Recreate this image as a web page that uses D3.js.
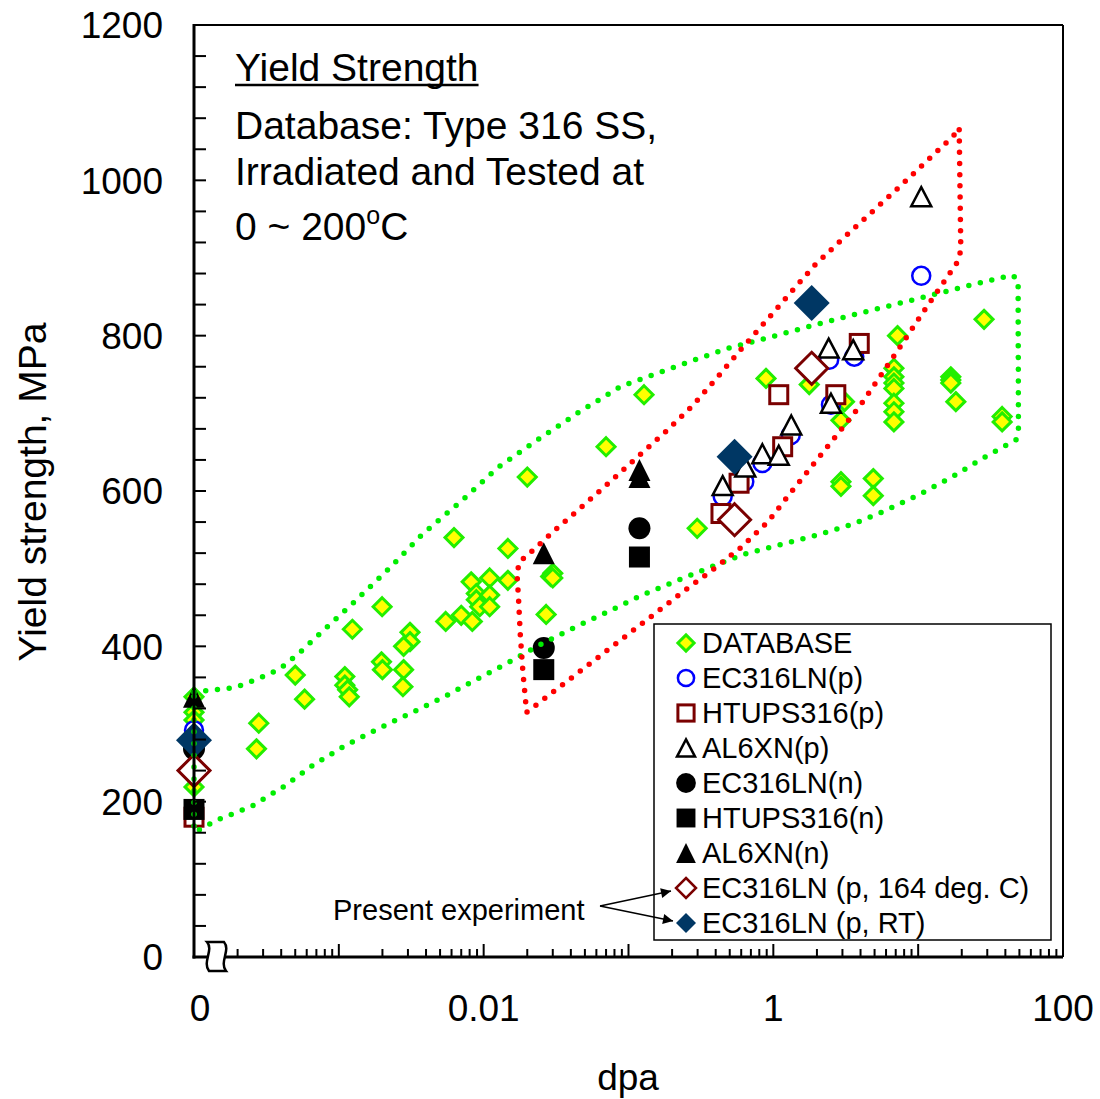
<!DOCTYPE html>
<html><head><meta charset="utf-8">
<script src="https://cdn.jsdelivr.net/npm/d3@7"></script>
<style>body{margin:0;background:#fff}svg{display:block}text{font-family:"Liberation Sans",Arial,sans-serif}</style>
</head><body><svg id="c" width="1100" height="1099"></svg>
<script>
// ---------- data ----------
const dbDpa = [0,0,0,0, 0.00028,0.00027,0.0005,0.00058, 0.0011,0.0011,0.00115,0.00118, 0.00124,0.00199,0.00197,0.002,
  0.0031,0.0031,0.0028,0.0028,0.00277, 0.00624,0.00547,0.007,0.00835,0.0082, 0.0089,0.0089,0.0094, 0.011,0.011,0.011,
  0.0147,0.0147, 0.020, 0.030,0.029,0.030,0.027, 0.070,0.128,0.298, 0.89,1.77,7.2,
  6.8,6.8,6.8,6.8,6.8,6.8,6.8, 16.8,16.8,16.8,18.2, 28.5,38,38, 2.93,2.93,4.9,4.9,2.93,3.1];
const dbYS = [335,315,305,219, 301,268,363,332, 361,350,344,335, 422,451,380,370,
  418,406,400,370,348, 540,432,440,432,483, 468,460,451, 488,466,451,
  526,485, 618, 494,490,488,441, 657,724,552, 745,737,800,
  758,747,739,732,713,702,689, 747,743,739,715, 821,696,689, 612,606,616,594,691,715];

const ecpDpa = [0,0.447,0.63,0.84,1.32,2.43,2.5,3.62,10.5];
const ecpYS  = [292,593,612,636,672,769,711,773,877];
const htpDpa = [0,0.435,0.58,1.16,1.09,2.7,3.92];
const htpYS  = [180,571,610,657,724,724,790];
const alpDpa = [0.447,0.64,0.84,1.09,1.33,2.41,3.56,2.5,10.5];
const alpYS  = [607,631,648,646,685,784,782,713,979];

const ecnDpa = [0,0.026,0.119];
const ecnYS  = [268,398,552];
const htnDpa = [0,0.026,0.119];
const htnYS  = [190,370,515];
const alnDpa = [0,0.026,0.119,0.119];
const alnYS  = [335,520,627,618];

const ex164Dpa = [0,0.54,1.84];
const ex164YS  = [240,563,758];
const exRTDpa  = [0,0.54,1.84];
const exRTYS   = [279,644,842];

// envelopes [dpa, MPa]
const greenEnv = [[1e-4,341],[1.92e-4,347],[2.76e-4,358],[3.92e-4,371],[5.3e-4,391],[8.2e-4,424],[1.26e-3,456],
  [2.22e-3,500],[3.81e-3,545],[7.0e-3,587],[0.0125,630],[0.0236,666],[0.0459,702],[0.0891,735],[0.225,762],
  [0.472,783],[0.989,799],[2.13,816],[4.59,832],[9.68,847],[20.7,863],[44.5,878],[49,872],[49.2,680],[47.4,666],
  [28.5,643],[17.1,618],[10.3,596],[5.99,575],[3.49,557],[1.99,543],[1.13,531],[0.638,519],[0.368,502],
  [0.213,484],[0.124,466],[0.0731,445],[0.0431,425],[0.0256,404],[0.0151,380],[0.00905,358],[5.32e-3,335],
  [3.14e-3,314],[1.87e-3,294],[1.1e-3,272],[6.65e-4,247],[4.13e-4,219],[2.5e-4,194],[1.47e-4,177],[1.02e-4,161],[1e-4,161],[1e-4,341]];
const redEnv = [[19.2,1065],[19.7,910],[18.7,895],[14.9,868],[10.7,829],[7.72,789],[5.53,749],[3.98,710],[2.77,673],
  [1.92,636],[1.32,598],[0.914,560],[0.604,528],[0.378,498],[0.237,470],[0.147,440],[0.0198,315],
  [0.01866,367],[0.0179,415],[0.0174,462],[0.01698,494],[0.0177,509],[0.0205,519],[0.0317,551],[0.0492,582],
  [0.0768,614],[0.119,646],[0.185,678],[0.281,711],[0.413,747],[0.609,784],[0.891,819],[1.31,855],[1.94,891],
  [2.98,924],[4.59,956],[7.08,988],[10.9,1021],[16.8,1054],[19.2,1065]];

const yLabelTicks = [0,200,400,600,800,1000,1200];
const xLabelVals = [0,0.01,1,100];
const xLabelText = ["0","0.01","1","100"];
const legendNames = ["DATABASE","EC316LN(p)","HTUPS316(p)","AL6XN(p)","EC316LN(n)","HTUPS316(n)","AL6XN(n)","EC316LN (p, 164 deg. C)","EC316LN (p, RT)"];

// ---------- scales ----------
const svg = d3.select("#c");
const L=194, R=1063, T=25, B=957;
const x = d3.scaleLog().domain([1e-4,100]).range([L,R]);
const y = d3.scaleLinear().domain([0,1200]).range([B,T]);
const px = v => x(v === 0 ? 1e-4 : v);

// ---------- marker painter ----------
function marker(g, type, cx, cy, legend) {
  const k = legend ? 0.9 : 1;
  switch(type){
    case "db": { const r=9*k; g.append("path").attr("d",`M${cx},${cy-r}L${cx+r},${cy}L${cx},${cy+r}L${cx-r},${cy}Z`)
      .attr("fill","#ffff00").attr("stroke","#22ee00").attr("stroke-width",3); break; }
    case "co": g.append("circle").attr("cx",cx).attr("cy",cy).attr("r",9*k).attr("fill","#fff").attr("stroke","#0000ff").attr("stroke-width",2.5); break;
    case "so": { const s=18*k; g.append("rect").attr("x",cx-s/2).attr("y",cy-s/2).attr("width",s).attr("height",s)
      .attr("fill","#fff").attr("stroke","#7a0000").attr("stroke-width",3); break; }
    case "to": { const w=20*k, h=19*k; g.append("path").attr("d",`M${cx},${cy-h/2}L${cx+w/2},${cy+h/2}L${cx-w/2},${cy+h/2}Z`)
      .attr("fill","#fff").attr("stroke","#000").attr("stroke-width",2.5).attr("stroke-linejoin","miter"); break; }
    case "cf": g.append("circle").attr("cx",cx).attr("cy",cy).attr("r",11*k).attr("fill","#000"); break;
    case "sf": { const s=21*k; g.append("rect").attr("x",cx-s/2).attr("y",cy-s/2).attr("width",s).attr("height",s).attr("fill","#000"); break; }
    case "tf": { const w=22*k, h=22*k; g.append("path").attr("d",`M${cx},${cy-h/2}L${cx+w/2},${cy+h/2}L${cx-w/2},${cy+h/2}Z`).attr("fill","#000"); break; }
    case "do": { const r=(legend?10:16); g.append("path").attr("d",`M${cx},${cy-r}L${cx+r},${cy}L${cx},${cy+r}L${cx-r},${cy}Z`)
      .attr("fill","#fff").attr("stroke","#7a0000").attr("stroke-width",legend?2.5:3); break; }
    case "df": { const r=(legend?10:18); g.append("path").attr("d",`M${cx},${cy-r}L${cx+r},${cy}L${cx},${cy+r}L${cx-r},${cy}Z`)
      .attr("fill","#003764"); break; }
  }
}

const series = [
  {xs:dbDpa, ys:dbYS, t:"db"},
  {xs:ecpDpa, ys:ecpYS, t:"co"},
  {xs:htpDpa, ys:htpYS, t:"so"},
  {xs:alpDpa, ys:alpYS, t:"to"},
  {xs:ecnDpa, ys:ecnYS, t:"cf"},
  {xs:htnDpa, ys:htnYS, t:"sf"},
  {xs:alnDpa, ys:alnYS, t:"tf"},
  {xs:ex164Dpa, ys:ex164YS, t:"do"},
  {xs:exRTDpa, ys:exRTYS, t:"df"}
];

const gm = svg.append("g");
series.forEach(s => s.xs.forEach((d,i) => marker(gm, s.t, px(d), y(s.ys[i]), false)));

// ---------- envelopes ----------
const line = d3.line().x(d=>px(d[0])).y(d=>y(d[1]));
svg.append("path").attr("d",line(greenEnv)).attr("fill","none").attr("stroke","#00ee00")
  .attr("stroke-width",5.5).attr("stroke-linecap","round").attr("stroke-dasharray","0 11.8");
svg.append("path").attr("d",line(redEnv)).attr("fill","none").attr("stroke","#ff0000")
  .attr("stroke-width",5.5).attr("stroke-linecap","round").attr("stroke-dasharray","0 11.2");

// ---------- axes ----------
const ga = svg.append("g");
ga.append("line").attr("x1",L).attr("x2",R).attr("y1",T).attr("y2",T).attr("stroke","#000").attr("stroke-width",2);
ga.append("line").attr("x1",R).attr("x2",R).attr("y1",T).attr("y2",B).attr("stroke","#000").attr("stroke-width",2);
ga.append("line").attr("x1",L).attr("x2",L).attr("y1",T-1).attr("y2",B+1.5).attr("stroke","#000").attr("stroke-width",3);
ga.append("line").attr("x1",L-1.5).attr("x2",R).attr("y1",B).attr("y2",B).attr("stroke","#000").attr("stroke-width",3);

d3.range(0,1201,40).forEach(v => ga.append("line").attr("x1",L).attr("x2",L+12).attr("y1",y(v)).attr("y2",y(v)).attr("stroke","#000").attr("stroke-width",2));
yLabelTicks.forEach(v => ga.append("text").attr("x",163).attr("y",y(v)).attr("dy","0.36em").attr("text-anchor","end").attr("font-size",37).text(v));

for (let k=-4;k<=1;k++){
  for (let m=1;m<=9;m++){
    const v = m*Math.pow(10,k);
    if (v<=1e-4) continue;
    const len = m===1 ? 13 : 8;
    ga.append("line").attr("x1",x(v)).attr("x2",x(v)).attr("y1",B).attr("y2",B-len).attr("stroke","#000").attr("stroke-width",2);
  }
}
xLabelVals.forEach((v,i) => ga.append("text").attr("x",px(v)+(v===0?6:0)).attr("y",1021).attr("text-anchor","middle").attr("font-size",37).text(xLabelText[i]));

// axis break symbol
ga.append("path").attr("d","M207,942 L224,942 C231,950 219,962 226,971 L209,971 C202,962 214,950 207,942 Z")
  .attr("fill","#fff").attr("stroke","#000").attr("stroke-width",2.5);

// axis titles
svg.append("text").attr("x",628).attr("y",1090).attr("text-anchor","middle").attr("font-size",37).text("dpa");
svg.append("text").attr("transform","translate(46,492) rotate(-90)").attr("text-anchor","middle").attr("font-size",39).text("Yield strength, MPa");

// ---------- annotation ----------
const t1 = svg.append("text").attr("x",235).attr("y",81).attr("font-size",39).text("Yield Strength");
const tw = t1.node().getComputedTextLength();
svg.append("line").attr("x1",235).attr("x2",235+tw).attr("y1",85).attr("y2",85).attr("stroke","#000").attr("stroke-width",2.5);
svg.append("text").attr("x",235).attr("y",139).attr("font-size",39).text("Database: Type 316 SS,");
svg.append("text").attr("x",235).attr("y",185).attr("font-size",39).text("Irradiated and Tested at");
const t4 = svg.append("text").attr("x",235).attr("y",240).attr("font-size",39);
t4.append("tspan").text("0 ~ 200");
t4.append("tspan").attr("font-size",25).attr("dy",-16).text("o");
t4.append("tspan").attr("dy",16).text("C");

// ---------- legend ----------
const lg = svg.append("g");
lg.append("rect").attr("x",654).attr("y",624).attr("width",397).attr("height",316).attr("fill","#fff").attr("stroke","#000").attr("stroke-width",1.5);
legendNames.forEach((name,i) => {
  const cy = 643 + i*35;
  marker(lg, series[i].t, 686, cy, true);
  lg.append("text").attr("x",702).attr("y",cy).attr("dy","0.36em").attr("font-size",29).text(name);
});

// present experiment
svg.append("text").attr("x",333).attr("y",920).attr("font-size",29).text("Present experiment");
const defs = svg.append("defs");
defs.append("marker").attr("id","ah").attr("viewBox","0 0 10 10").attr("refX",10).attr("refY",5)
  .attr("markerWidth",16).attr("markerHeight",10).attr("markerUnits","userSpaceOnUse").attr("orient","auto")
  .append("path").attr("d","M0,0L10,5L0,10Z").attr("fill","#000");
[[671,891],[673,921]].forEach(p => svg.append("line").attr("x1",600).attr("y1",906).attr("x2",p[0]).attr("y2",p[1])
  .attr("stroke","#000").attr("stroke-width",1.5).attr("marker-end","url(#ah)"));
</script></body></html>
